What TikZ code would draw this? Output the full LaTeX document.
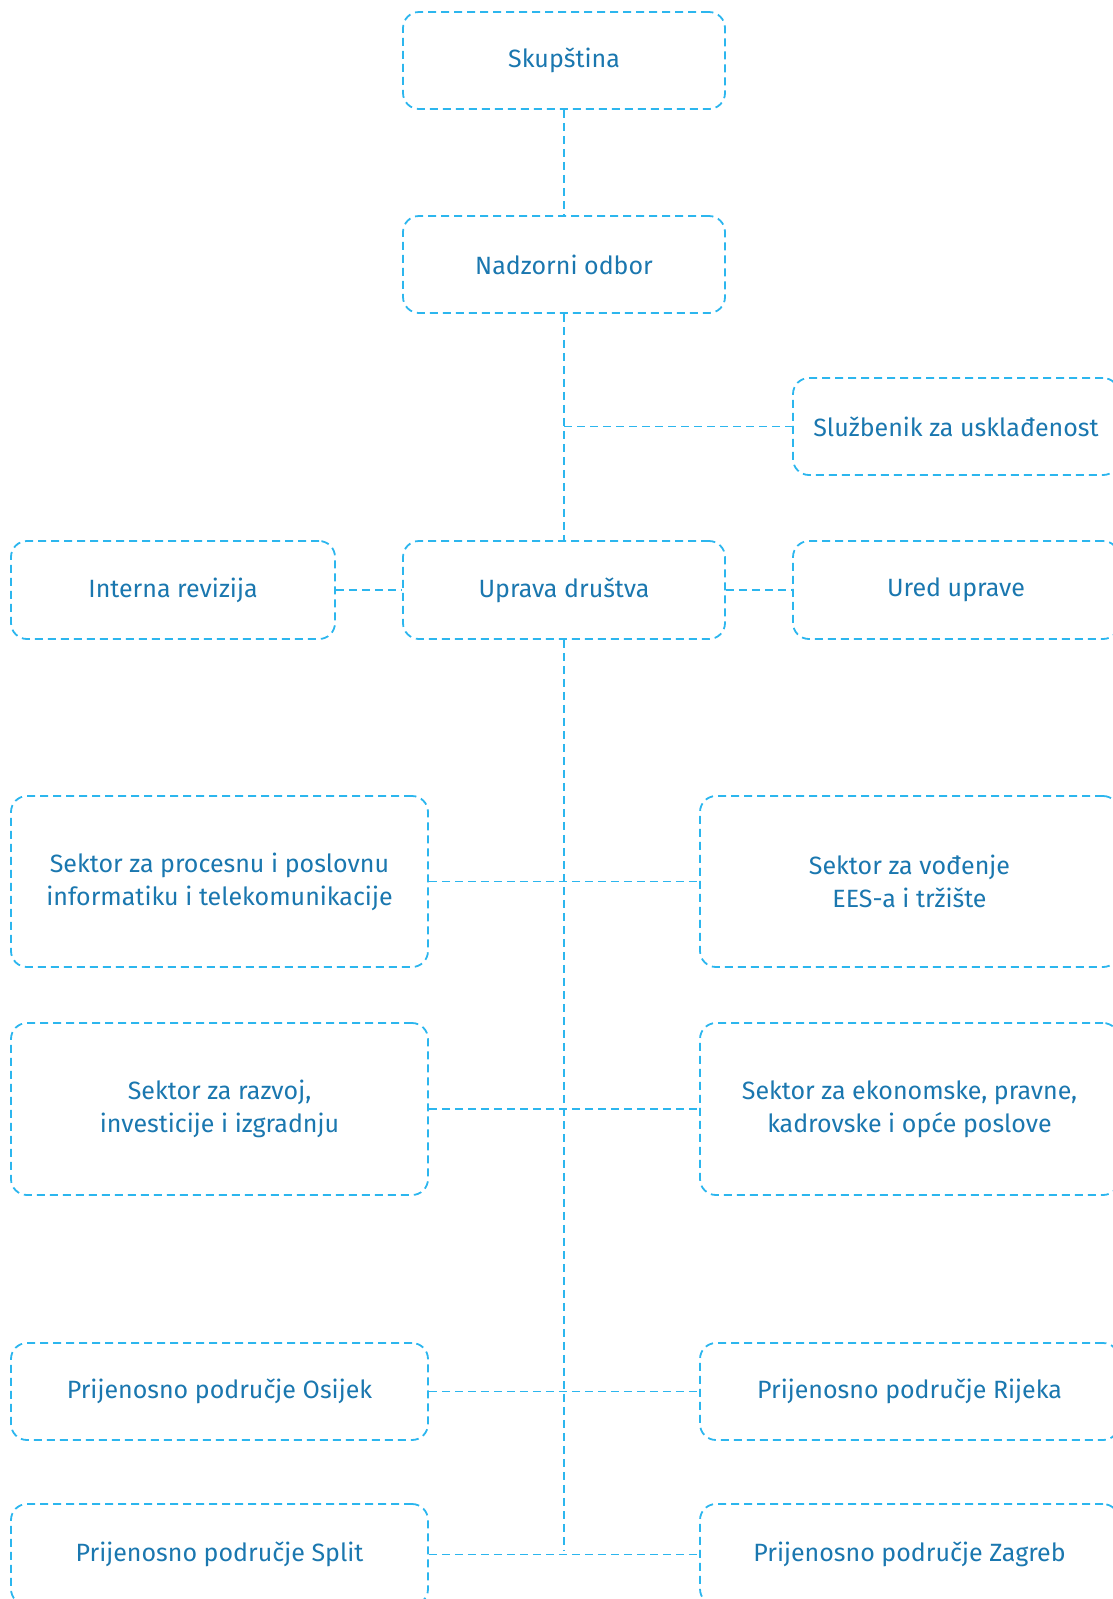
\documentclass[tikz,border=0pt]{standalone}
\usepackage{fontspec}
\setmainfont{Fira Sans}
\definecolor{txt}{HTML}{1A77AF}
\definecolor{ln}{HTML}{2CB6EE}
\begin{document}
\begin{tikzpicture}[x=1pt,y=-1pt,
  box/.style={draw=ln, line width=1.8pt, dash pattern=on 8pt off 5pt, rounded corners=16pt,
    text=txt, font=\fontsize{25}{33}\selectfont, align=center, inner sep=0pt},
  conn/.style={draw=ln, line width=1.8pt, dash pattern=on 8pt off 5pt}]
\useasboundingbox (0,0) rectangle (1113,1599);
\node[box, minimum width=322pt, minimum height=97pt] (sk) at (564,60.5) {Skupština};
\node[box, minimum width=322pt, minimum height=97pt] (nad) at (564,264.5) {Nadzorni odbor};
\node[box, minimum width=326pt, minimum height=97pt] (slu) at (956,426.5) {Službenik za usklađenost};
\node[box, minimum width=324pt, minimum height=98pt] (ir) at (173,590) {Interna revizija};
\node[box, minimum width=322pt, minimum height=98pt] (up) at (564,590) {Uprava društva};
\node[box, minimum width=326pt, minimum height=98pt] (ured) at (956,590) {Ured uprave};
\node[box, minimum width=417pt, minimum height=171pt] (proc) at (219.5,881.5) {Sektor za procesnu i poslovnu\\informatiku i telekomunikacije};
\node[box, minimum width=419pt, minimum height=171pt] (vod) at (909.5,881.5) {Sektor za vođenje\\EES-a i tržište};
\node[box, minimum width=417pt, minimum height=172pt] (raz) at (219.5,1109) {Sektor za razvoj,\\investicije i izgradnju};
\node[box, minimum width=419pt, minimum height=172pt] (eko) at (909.5,1109) {Sektor za ekonomske, pravne,\\kadrovske i opće poslove};
\node[box, minimum width=417pt, minimum height=97pt] (osi) at (219.5,1391.5) {Prijenosno područje Osijek};
\node[box, minimum width=419pt, minimum height=97pt] (rij) at (909.5,1391.5) {Prijenosno područje Rijeka};
\node[box, minimum width=417pt, minimum height=101pt] (spl) at (219.5,1554.5) {Prijenosno područje Split};
\node[box, minimum width=419pt, minimum height=101pt] (zag) at (909.5,1554.5) {Prijenosno područje Zagreb};
\coordinate (j1) at (564,426.5);
\coordinate (jb) at (564,1550);
\draw[conn] (sk.south) -- (nad.north);
\draw[conn] (nad.south) -- (up.north);
\draw[conn] (j1) -- (slu.west);
\draw[conn] (ir.east) -- (up.west);
\draw[conn] (up.east) -- (ured.west);
\draw[conn] (up.south) -- (jb);
\draw[conn] (proc.east) -- (vod.west);
\draw[conn] (raz.east) -- (eko.west);
\draw[conn] (osi.east) -- (rij.west);
\draw[conn] (spl.east) -- (zag.west |- spl.east);
\end{tikzpicture}
\end{document}
